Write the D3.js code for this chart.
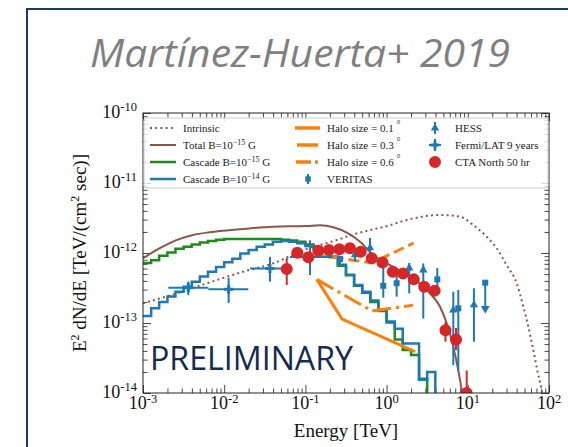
<!DOCTYPE html>
<html>
<head>
<meta charset="utf-8">
<script src="https://cdn.jsdelivr.net/npm/d3@7"></script>
<style>
  body { margin: 0; background: #fff; }
  svg { display: block; }
</style>
</head>
<body>
<svg id="chart" width="568" height="447"></svg>
<script>
// ---------- axis ticks ----------
const xDecades = [1e-3, 1e-2, 1e-1, 1, 10, 100];
const xTickExps = ["-3", "-2", "-1", "0", "1", "2"];
const yDecades = [1e-14, 1e-13, 1e-12, 1e-11, 1e-10];
const yTickExps = ["-14", "-13", "-12", "-11", "-10"];

// ---------- model curves ----------
// intrinsic spectrum (dotted)
const intrinsicE = [0.001, 0.00257, 0.0066, 0.0171, 0.040, 0.094, 0.243, 0.372, 0.625, 0.955, 1.77, 4.55, 8.0, 11.7, 17.1, 22.7, 30.1, 40.0, 48.3, 55.6, 64.1, 71.8, 81.3, 90];
const intrinsicF = [1.91e-13, 2.65e-13, 3.8e-13, 5.4e-13, 7.1e-13, 1.1e-12, 1.53e-12, 1.81e-12, 2.13e-12, 2.38e-12, 2.96e-12, 3.49e-12, 3.3e-12, 2.5e-12, 1.71e-12, 1.17e-12, 6.7e-13, 3.7e-13, 1.71e-13, 8.9e-14, 4.1e-14, 2.1e-14, 1.1e-14, 5e-15];

// total spectrum, B = 1e-15 G
const totalE = [0.001, 0.00161, 0.00257, 0.00413, 0.0066, 0.0171, 0.040, 0.104, 0.151, 0.221, 0.323, 0.47, 0.686, 1.0, 2.13, 3.42, 4.55, 5.5, 6.62, 7.64, 8.4, 8.8];
const totalF = [8.4e-13, 1.17e-12, 1.53e-12, 1.81e-12, 1.98e-12, 2.2e-12, 2.38e-12, 2.43e-12, 2.49e-12, 2.33e-12, 1.95e-12, 1.45e-12, 9.3e-13, 7.1e-13, 4.35e-13, 2.65e-13, 1.71e-13, 9.9e-14, 4.6e-14, 2.1e-14, 1.1e-14, 7e-15];

// cascade histograms (bin edges in TeV, one value per bin)
const binEdges = [0.001, 0.00126, 0.00158, 0.002, 0.00251, 0.00316, 0.00398, 0.00501, 0.00631, 0.00794,
                  0.01, 0.0126, 0.0158, 0.02, 0.0251, 0.0316, 0.0398, 0.0501, 0.0631, 0.0794,
                  0.1, 0.126, 0.158, 0.2, 0.251, 0.316, 0.398, 0.501, 0.631, 0.794,
                  1, 1.26, 1.58, 2, 2.51, 3.16, 3.98];
const cascadeB15 = [7.2e-13, 7.9e-13, 9.1e-13, 1.02e-12, 1.15e-12, 1.23e-12, 1.32e-12, 1.41e-12, 1.48e-12, 1.55e-12,
                    1.58e-12, 1.58e-12, 1.58e-12, 1.58e-12, 1.58e-12, 1.58e-12, 1.58e-12, 1.55e-12, 1.51e-12, 1.45e-12,
                    1.32e-12, 1.2e-12, 1.05e-12, 8.7e-13, 6.6e-13, 4.8e-13, 3.4e-13, 2.7e-13, 2.0e-13, 1.48e-13,
                    1.02e-13, 5.8e-14, 4.1e-14, 3.5e-14, 1.6e-14];
const cascadeB14 = [1.26e-13, 1.62e-13, 2.0e-13, 2.4e-13, 2.8e-13, 3.3e-13, 3.9e-13, 4.6e-13, 5.4e-13, 6.3e-13,
                    7.4e-13, 8.3e-13, 9.8e-13, 1.1e-12, 1.23e-12, 1.32e-12, 1.45e-12, 1.48e-12, 1.45e-12, 1.38e-12,
                    1.26e-12, 1.17e-12, 1.05e-12, 8.9e-13, 6.8e-13, 4.9e-13, 3.5e-13, 2.8e-13, 2.1e-13, 1.55e-13,
                    1.05e-13, 8.3e-14, 5.1e-14, 5.1e-14, 1.55e-14, 2.0e-14];

// halo-size curves
const halo01E = [0.138, 0.283, 2.24];
const halo01F = [4.2e-13, 1.14e-13, 3.9e-14];
const halo03E = [0.138, 0.66, 2.15];
const halo03F = [9.4e-13, 7.2e-13, 1.39e-12];
const halo06E = [0.138, 0.66, 2.11];
const halo06F = [4.2e-13, 1.48e-13, 1.8e-13];

// ---------- measurements ----------
const veritasE = [0.267, 0.91, 1.33, 4.21, 7.64];
const veritasF = [8.2e-13, 3.4e-13, 3.7e-13, 4.2e-13, 1.62e-13];
const veritasLo = [6.7e-13, 2.3e-13, 2.38e-13, 2.7e-13, 2.1e-14];
const veritasHi = [9.1e-13, 7.5e-13, 5.4e-13, 6.1e-13, 2.96e-13];
const veritasUlE = [16.4];
const veritasUlF = [3.77e-13];
const veritasUlTo = [1.5e-13];

const hessE = [0.408, 0.625, 1.9, 2.83, 6.63, 11.9];
const hessF = [9.4e-13, 1.18e-12, 6.1e-13, 5.7e-13, 1.53e-13, 1.81e-13];
const hessLo = [7.5e-13, 8.5e-13, 2.65e-13, 1.16e-13, 2.5e-14, 5.4e-14];
const hessHi = [1.1e-12, 1.64e-12, 7.2e-13, 7.1e-13, 2.8e-13, 3.13e-13];

const fermiE = [0.00361, 0.01135, 0.0366, 0.114];
const fermiF = [3.2e-13, 3.03e-13, 6.0e-13, 8.8e-13];
const fermiELo = [0.00205, 0.00637, 0.0208, 0.0646];
const fermiEHi = [0.00637, 0.0198, 0.0646, 0.2];
const fermiLo = [2.5e-13, 1.93e-13, 3.9e-13, 4.85e-13];
const fermiHi = [3.9e-13, 4.4e-13, 8.8e-13, 1.52e-12];

const ctaE = [0.0589, 0.0794, 0.1086, 0.144, 0.195, 0.262, 0.354, 0.480, 0.655, 0.89, 1.19, 1.59, 2.16, 2.90, 3.91, 5.31, 7.16, 9.69];
const ctaF = [5.9e-13, 1.01e-12, 8.7e-13, 1.08e-12, 1.10e-12, 1.13e-12, 1.17e-12, 1.04e-12, 8.4e-13, 7.3e-13, 5.4e-13, 5.1e-13, 4.2e-13, 3.3e-13, 2.9e-13, 7.9e-14, 5.8e-14, 1.0e-14];
const ctaLo = [3.5e-13, 9.2e-13, 7.9e-13, 1.0e-12, 1.02e-12, 1.05e-12, 1.09e-12, 9.6e-13, 7.7e-13, 6.6e-13, 4.8e-13, 4.5e-13, 3.7e-13, 2.8e-13, 2.4e-13, 5.4e-14, 4.1e-14, 5e-15];
const ctaHi = [8.5e-13, 1.1e-12, 9.6e-13, 1.16e-12, 1.18e-12, 1.21e-12, 1.25e-12, 1.12e-12, 9.1e-13, 8.0e-13, 6.0e-13, 5.7e-13, 4.7e-13, 3.8e-13, 3.4e-13, 1.04e-13, 8.5e-14, 2.1e-14];

// ---------- styling ----------
const C = {
  brown: "#8c564b", green: "#1a8c1a", blue: "#1f77b4",
  orange: "#ff7f0e", red: "#d62728", frame: "#1f3864"
};
const SERIF = "'Liberation Serif', 'Times New Roman', serif";
const SANS = "'Open Sans', 'Noto Sans', sans-serif";

const svg = d3.select("#chart");
const W = 568, H = 447;
const plot = { left: 143, right: 549, top: 113, bottom: 393 };

const x = d3.scaleLog().domain([1e-3, 1e2]).range([plot.left, plot.right]);
const y = d3.scaleLog().domain([1e-14, 1e-10]).range([plot.bottom, plot.top]);

// slide frame
svg.append("path")
  .attr("d", `M27,${H} V9 H${W}`)
  .attr("fill", "none").attr("stroke", C.frame).attr("stroke-width", 2);

// title
svg.append("text")
  .attr("x", 90).attr("y", 67)
  .attr("font-family", SANS).attr("font-style", "italic")
  .attr("font-size", 38).attr("fill", "#7f7f7f")
  .attr("textLength", 420).attr("lengthAdjust", "spacingAndGlyphs")
  .text("Martínez-Huerta+ 2019");

// ---------- axes ----------
const isDecade = v => Math.abs(Math.log10(v) - Math.round(Math.log10(v))) < 1e-9;
const xMinor = x.ticks().filter(v => !isDecade(v));
const yMinor = y.ticks().filter(v => !isDecade(v));

const axesG = svg.append("g").attr("class", "axes");
function addAxis(axisFn, scale, values, size, transform) {
  axesG.append("g").attr("transform", transform)
    .call(axisFn(scale).tickValues(values).tickSize(size).tickSizeOuter(0).tickFormat(""))
    .call(g => g.select(".domain").remove())
    .call(g => g.selectAll(".tick line").attr("stroke", "#333").attr("stroke-width", 0.9));
}
addAxis(d3.axisBottom, x, xDecades, -8, `translate(0,${plot.bottom})`);
addAxis(d3.axisBottom, x, xMinor, -4.5, `translate(0,${plot.bottom})`);
addAxis(d3.axisTop, x, xDecades, -8, `translate(0,${plot.top})`);
addAxis(d3.axisTop, x, xMinor, -4.5, `translate(0,${plot.top})`);
addAxis(d3.axisLeft, y, yDecades, -8, `translate(${plot.left},0)`);
addAxis(d3.axisLeft, y, yMinor, -4.5, `translate(${plot.left},0)`);
addAxis(d3.axisRight, y, yDecades, -8, `translate(${plot.right},0)`);
addAxis(d3.axisRight, y, yMinor, -4.5, `translate(${plot.right},0)`);

// tick labels: 10 with superscript exponent
const xLab = axesG.append("g").selectAll("text").data(xDecades).join("text")
  .attr("x", d => x(d)).attr("y", plot.bottom + 16)
  .attr("text-anchor", "middle")
  .attr("font-family", SERIF).attr("font-size", 18).attr("fill", "#111");
xLab.append("tspan").text("10");
xLab.append("tspan").attr("dy", -6).attr("font-size", 12.5).text((d, i) => xTickExps[i]);

const yLab = axesG.append("g").selectAll("text").data(yDecades).join("text")
  .attr("x", plot.left - 6).attr("y", d => y(d) + 5)
  .attr("text-anchor", "end")
  .attr("font-family", SERIF).attr("font-size", 18).attr("fill", "#111");
yLab.append("tspan").text("10");
yLab.append("tspan").attr("dy", -7).attr("font-size", 12.5).text((d, i) => yTickExps[i]);

// axis titles
svg.append("text")
  .attr("x", (plot.left + plot.right) / 2).attr("y", 437)
  .attr("text-anchor", "middle")
  .attr("font-family", SERIF).attr("font-size", 19).attr("fill", "#111")
  .text("Energy [TeV]");

const yTitle = svg.append("text")
  .attr("transform", `translate(86,${(plot.top + plot.bottom) / 2}) rotate(-90)`)
  .attr("text-anchor", "middle")
  .attr("font-family", SERIF).attr("font-size", 19).attr("fill", "#111");
yTitle.append("tspan").text("E");
yTitle.append("tspan").attr("dy", -7).attr("font-size", 12).text("2");
yTitle.append("tspan").attr("dy", 7).text(" dN/dE [TeV/(cm");
yTitle.append("tspan").attr("dy", -7).attr("font-size", 12).text("2");
yTitle.append("tspan").attr("dy", 7).text(" sec)]");

// ---------- plot area ----------
svg.append("clipPath").attr("id", "plotClip")
  .append("rect")
  .attr("x", plot.left).attr("y", plot.top)
  .attr("width", plot.right - plot.left).attr("height", plot.bottom - plot.top);
const area = svg.append("g").attr("clip-path", "url(#plotClip)");

const pairs = (es, fs) => es.map((e, i) => [e, fs[i]]);
const smooth = d3.line().x(d => x(d[0])).y(d => y(d[1])).curve(d3.curveMonotoneX);
const straight = d3.line().x(d => x(d[0])).y(d => y(d[1]));

// intrinsic (dotted)
area.append("path").attr("d", smooth(pairs(intrinsicE, intrinsicF)))
  .attr("fill", "none").attr("stroke", C.brown).attr("stroke-width", 2)
  .attr("stroke-dasharray", "2,3.2");

// total
area.append("path").attr("d", smooth(pairs(totalE, totalF)))
  .attr("fill", "none").attr("stroke", C.brown).attr("stroke-width", 2);

// cascade step histograms
function stepPath(values) {
  const pts = [];
  values.forEach((v, i) => { pts.push([binEdges[i], v]); pts.push([binEdges[i + 1], v]); });
  return straight(pts) + `V${plot.bottom + 5}`;
}
area.append("path").attr("d", stepPath(cascadeB15))
  .attr("fill", "none").attr("stroke", C.green).attr("stroke-width", 2.5);
area.append("path").attr("d", stepPath(cascadeB14))
  .attr("fill", "none").attr("stroke", C.blue).attr("stroke-width", 2.5);

// halo curves
area.append("path").attr("d", straight(pairs(halo01E, halo01F)))
  .attr("fill", "none").attr("stroke", C.orange).attr("stroke-width", 3);
area.append("path").attr("d", straight(pairs(halo03E, halo03F)))
  .attr("fill", "none").attr("stroke", C.orange).attr("stroke-width", 3)
  .attr("stroke-dasharray", "11,5");
area.append("path").attr("d", straight(pairs(halo06E, halo06F)))
  .attr("fill", "none").attr("stroke", C.orange).attr("stroke-width", 3)
  .attr("stroke-dasharray", "19,5,3,5");

// error bars + markers
function errorBars(g, es, fs, lo, hi, color, w) {
  g.append("g").selectAll("line").data(es).join("line")
    .attr("x1", d => x(d)).attr("x2", d => x(d))
    .attr("y1", (d, i) => y(lo[i])).attr("y2", (d, i) => y(hi[i]))
    .attr("stroke", color).attr("stroke-width", w);
}
function markers(g, es, fs, type, size, color) {
  g.append("g").selectAll("path").data(es).join("path")
    .attr("transform", (d, i) => `translate(${x(d)},${y(fs[i])})`)
    .attr("d", d3.symbol().type(type).size(size)())
    .attr("fill", color);
}

// VERITAS
errorBars(area, veritasE, veritasF, veritasLo, veritasHi, C.blue, 2);
markers(area, veritasE, veritasF, d3.symbolSquare, 36, C.blue);
// VERITAS upper limit
area.append("g").selectAll("line").data(veritasUlE).join("line")
  .attr("x1", d => x(d)).attr("x2", d => x(d))
  .attr("y1", (d, i) => y(veritasUlF[i])).attr("y2", (d, i) => y(veritasUlTo[i]))
  .attr("stroke", C.blue).attr("stroke-width", 2);
area.append("g").selectAll("path").data(veritasUlE).join("path")
  .attr("transform", (d, i) => `translate(${x(d)},${y(veritasUlTo[i]) - 2}) rotate(180)`)
  .attr("d", d3.symbol().type(d3.symbolTriangle).size(34)())
  .attr("fill", C.blue);
markers(area, veritasUlE, veritasUlF, d3.symbolSquare, 36, C.blue);

// HESS
errorBars(area, hessE, hessF, hessLo, hessHi, C.blue, 2);
markers(area, hessE, hessF, d3.symbolTriangle, 30, C.blue);

// Fermi/LAT (energy bins and flux errors)
errorBars(area, fermiE, fermiF, fermiLo, fermiHi, C.blue, 2);
area.append("g").selectAll("line").data(fermiE).join("line")
  .attr("x1", (d, i) => x(fermiELo[i])).attr("x2", (d, i) => x(fermiEHi[i]))
  .attr("y1", (d, i) => y(fermiF[i])).attr("y2", (d, i) => y(fermiF[i]))
  .attr("stroke", C.blue).attr("stroke-width", 2);
markers(area, fermiE, fermiF, d3.symbolCross, 45, C.blue);

// CTA North 50 hr
errorBars(area, ctaE, ctaF, ctaLo, ctaHi, C.red, 2);
markers(area, ctaE, ctaF, d3.symbolCircle, 113, C.red);

// plot frame
svg.append("rect")
  .attr("x", plot.left).attr("y", plot.top)
  .attr("width", plot.right - plot.left).attr("height", plot.bottom - plot.top)
  .attr("fill", "none").attr("stroke", "#222").attr("stroke-width", 1);

// PRELIMINARY stamp
svg.append("text")
  .attr("x", 150).attr("y", 370)
  .attr("font-family", SANS).attr("font-size", 32).attr("fill", "#132b52")
  .attr("textLength", 203).attr("lengthAdjust", "spacingAndGlyphs")
  .text("PRELIMINARY");

// ---------- legend ----------
const leg = svg.append("g").attr("font-family", SERIF).attr("font-size", 11).attr("fill", "#222");
leg.append("rect")
  .attr("x", 144).attr("y", 118).attr("width", 404).attr("height", 70).attr("rx", 2)
  .attr("fill", "#fff").attr("fill-opacity", 0.8)
  .attr("stroke", "#cccccc").attr("stroke-width", 1);

const rowY = [128, 145, 162, 179];

function legLine(x0, x1, yy, color, width, dash) {
  const l = leg.append("line").attr("x1", x0).attr("x2", x1).attr("y1", yy).attr("y2", yy)
    .attr("stroke", color).attr("stroke-width", width);
  if (dash) l.attr("stroke-dasharray", dash);
}
function legText(x0, yy, parts) {
  const t = leg.append("text").attr("x", x0).attr("y", yy + 4);
  parts.forEach(p => {
    const s = t.append("tspan").text(p.t);
    if (p.sup) s.attr("dy", -4).attr("font-size", p.size || 8);
    if (p.down) s.attr("dy", 4);
  });
}

// column 1
legLine(150, 176, rowY[0], C.brown, 2, "2,3.2");
legText(183, rowY[0], [{ t: "Intrinsic" }]);
legLine(150, 176, rowY[1], C.brown, 2);
legText(183, rowY[1], [{ t: "Total B=10" }, { t: "−15", sup: true }, { t: " G", down: true }]);
legLine(150, 176, rowY[2], C.green, 2.5);
legText(183, rowY[2], [{ t: "Cascade B=10" }, { t: "−15", sup: true }, { t: " G", down: true }]);
legLine(150, 176, rowY[3], C.blue, 2.5);
legText(183, rowY[3], [{ t: "Cascade B=10" }, { t: "−14", sup: true }, { t: " G", down: true }]);

// column 2
legLine(295, 320, rowY[0], C.orange, 3.5);
legText(327, rowY[0], [{ t: "Halo size = 0.1 " }, { t: "°", sup: true, size: 10 }]);
legLine(297, 318, rowY[1], C.orange, 3.5);
legText(327, rowY[1], [{ t: "Halo size = 0.3 " }, { t: "°", sup: true, size: 10 }]);
legLine(296, 319, rowY[2], C.orange, 3.5, "15,4,3,10");
legText(327, rowY[2], [{ t: "Halo size = 0.6 " }, { t: "°", sup: true, size: 10 }]);
leg.append("line").attr("x1", 308).attr("x2", 308).attr("y1", rowY[3] - 5).attr("y2", rowY[3] + 5)
  .attr("stroke", C.blue).attr("stroke-width", 2);
leg.append("path").attr("transform", `translate(308,${rowY[3]})`)
  .attr("d", d3.symbol().type(d3.symbolSquare).size(30)()).attr("fill", C.blue);
legText(327, rowY[3], [{ t: "VERITAS" }]);

// column 3
leg.append("line").attr("x1", 435).attr("x2", 435).attr("y1", rowY[0] - 6).attr("y2", rowY[0] + 6)
  .attr("stroke", C.blue).attr("stroke-width", 2);
leg.append("path").attr("transform", `translate(435,${rowY[0]})`)
  .attr("d", d3.symbol().type(d3.symbolTriangle).size(30)()).attr("fill", C.blue);
legText(455, rowY[0], [{ t: "HESS" }]);

leg.append("line").attr("x1", 435).attr("x2", 435).attr("y1", rowY[1] - 6).attr("y2", rowY[1] + 6)
  .attr("stroke", C.blue).attr("stroke-width", 2);
leg.append("line").attr("x1", 429).attr("x2", 441).attr("y1", rowY[1]).attr("y2", rowY[1])
  .attr("stroke", C.blue).attr("stroke-width", 2);
leg.append("path").attr("transform", `translate(435,${rowY[1]})`)
  .attr("d", d3.symbol().type(d3.symbolCross).size(40)()).attr("fill", C.blue);
legText(455, rowY[1], [{ t: "Fermi/LAT 9 years" }]);

leg.append("path").attr("transform", `translate(435,${rowY[2]})`)
  .attr("d", d3.symbol().type(d3.symbolCircle).size(113)()).attr("fill", C.red);
legText(455, rowY[2], [{ t: "CTA North 50 hr" }]);
</script>
</body>
</html>
